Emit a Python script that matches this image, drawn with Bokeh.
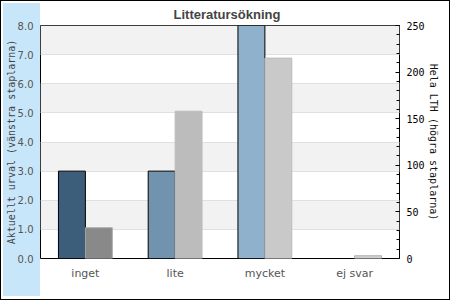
from bokeh.plotting import figure
from bokeh.models import (ColumnDataSource, FactorRange, Range1d, LinearAxis, FixedTicker,
                          NumeralTickFormatter)
from bokeh.transform import dodge
from bokeh.embed import file_html
from bokeh.resources import INLINE

# ---- data ----
categories = ["inget", "lite", "mycket", "ej svar"]
aktuellt = [3, 3, 8, 0]            # left axis (Aktuellt urval)
hela_lth = [33, 158, 215, 3]       # right axis (Hela LTH)
left_ticks = [0, 1, 2, 3, 4, 5, 6, 7, 8]
right_ticks = [0, 50, 100, 150, 200, 250]
right_minor = list(range(0, 251, 10))
title_text = "Litteratursökning"
left_title = "Aktuellt urval (vänstra staplarna)"
right_title = "Hela LTH (högra staplarna)"

left_colors = ["#3d5e7b", "#7293ad", "#8fb1cc", "#a8c4da"]
right_colors = ["#898989", "#bcbcbc", "#c9c9c9", "#cfcfcf"]
right_lines = ["#ababab", "#bcbcbc", "#bdbdbd", "#b3b3b3"]

src = ColumnDataSource(dict(cat=categories, akt=aktuellt, lth=hela_lth,
                            lc=left_colors, rc=right_colors, rl=right_lines))

p = figure(width=450, height=300, x_range=FactorRange(*categories, range_padding=0),
           y_range=Range1d(0, 8), output_backend="svg", toolbar_location=None,
           min_border_left=40, min_border_right=51, min_border_top=25, min_border_bottom=42)
p.extra_y_ranges = {"right": Range1d(0, 250)}

p.background_fill_color = "white"
p.border_fill_alpha = 0
p.outline_line_color = "black"
p.outline_line_width = 1
p.styles = {
    "background": "linear-gradient(#c8e6fa, #c8e6fa) 3px 3px / 37px 293px no-repeat, #ffffff",
    "box-shadow": "inset 0 0 0 1px #000000",
}

p.title.text = title_text
p.title.align = "left"
p.title.offset = 133
p.title.standoff = 8
p.title.text_font = "Liberation Sans"
p.title.text_font_style = "bold"
p.title.text_font_size = "13px"
p.title.text_color = "#444444"

p.vbar(x=dodge("cat", -0.15, range=p.x_range), top="akt", width=0.30, source=src,
       fill_color="lc", line_color="black", line_width=1)
p.vbar(x=dodge("cat", 0.15, range=p.x_range), top="lth", width=0.30, source=src,
       fill_color="rc", line_color="rl", line_width=1, y_range_name="right")

# grid with alternating bands
p.xgrid.grid_line_color = None
p.ygrid.ticker = FixedTicker(ticks=left_ticks)
p.ygrid.grid_line_color = "#e0e0e0"
p.ygrid.band_fill_color = "#f2f2f2"
p.ygrid.band_fill_alpha = 1

# left axis
ya = p.yaxis[0]
ya.ticker = FixedTicker(ticks=left_ticks)
ya.formatter = NumeralTickFormatter(format="0.0")
ya.axis_line_color = None
ya.major_tick_line_color = None
ya.minor_tick_line_color = None
ya.major_tick_in = 0
ya.major_tick_out = 0
ya.minor_tick_in = 0
ya.minor_tick_out = 0
ya.major_label_text_font = "DejaVu Sans"
ya.major_label_text_font_size = "10px"
ya.major_label_text_color = "#555555"
ya.major_label_standoff = 7
ya.axis_label = left_title
ya.axis_label_text_font = "DejaVu Sans Mono"
ya.axis_label_text_font_style = "normal"
ya.axis_label_text_font_size = "10px"
ya.axis_label_text_color = "#444444"
ya.axis_label_standoff = -2

# right axis
ra = LinearAxis(y_range_name="right", ticker=FixedTicker(ticks=right_ticks, minor_ticks=right_minor))
ra.axis_line_color = None
ra.major_tick_in = 4
ra.major_tick_out = 0
ra.minor_tick_in = 3
ra.minor_tick_out = 0
ra.major_tick_line_color = "black"
ra.minor_tick_line_color = "black"
ra.major_label_text_font = "DejaVu Sans Mono"
ra.major_label_text_font_size = "10px"
ra.major_label_text_color = "black"
ra.major_label_standoff = 7
ra.axis_label = right_title
ra.axis_label_text_font = "DejaVu Sans Mono"
ra.axis_label_text_font_style = "normal"
ra.axis_label_text_font_size = "10px"
ra.axis_label_text_color = "#111111"
ra.axis_label_standoff = 0
p.add_layout(ra, "right")

# x axis
xa = p.xaxis[0]
xa.axis_line_color = None
xa.major_tick_line_color = None
xa.minor_tick_line_color = None
xa.major_tick_in = 0
xa.major_tick_out = 0
xa.minor_tick_in = 0
xa.minor_tick_out = 0
xa.major_label_text_font = "DejaVu Sans"
xa.major_label_text_font_size = "11px"
xa.major_label_text_color = "#555555"
xa.major_label_standoff = 8

open("out.html", "w").write(file_html(p, INLINE))
